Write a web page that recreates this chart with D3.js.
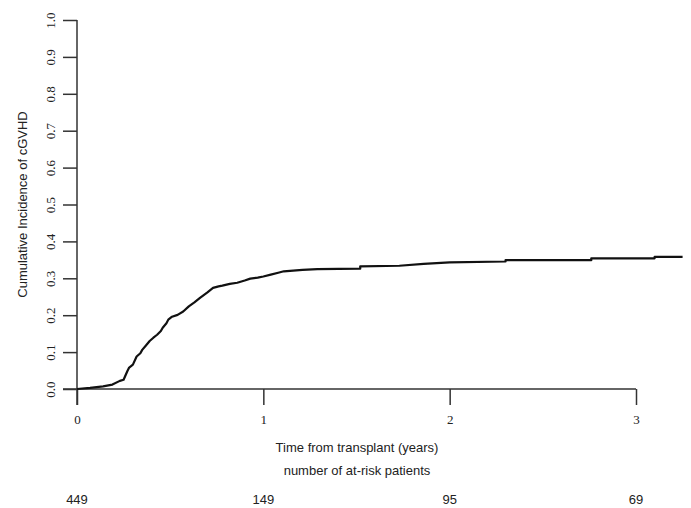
<!DOCTYPE html>
<html>
<head>
<meta charset="utf-8">
<script src="https://cdn.jsdelivr.net/npm/d3@7"></script>
<style>
  body { margin: 0; background: #fff; }
  svg { display: block; }
</style>
</head>
<body>
<div id="chart"></div>
<script>
// Curva de incidencia acumulada (años, incidencia); los pasos planos se repiten en x
const years = [0, 0.07, 0.14, 0.19, 0.23, 0.25, 0.27, 0.28, 0.30, 0.32, 0.34, 0.35, 0.37, 0.39, 0.41, 0.43, 0.45, 0.46, 0.48, 0.49, 0.51, 0.54, 0.57, 0.60, 0.63, 0.66, 0.70, 0.73, 0.76, 0.78, 0.82, 0.86, 0.90, 0.93, 0.97, 1.00, 1.04, 1.08, 1.11, 1.16, 1.21, 1.29, 1.52, 1.52, 1.73, 1.86, 2.00, 2.30, 2.30, 2.76, 2.76, 3.10, 3.10, 3.25];
const incidence = [0, 0.003, 0.007, 0.012, 0.022, 0.025, 0.048, 0.058, 0.066, 0.088, 0.097, 0.106, 0.118, 0.130, 0.139, 0.147, 0.157, 0.166, 0.178, 0.188, 0.196, 0.201, 0.210, 0.224, 0.235, 0.247, 0.262, 0.274, 0.278, 0.280, 0.285, 0.288, 0.294, 0.299, 0.302, 0.305, 0.310, 0.315, 0.319, 0.321, 0.323, 0.325, 0.326, 0.3325, 0.334, 0.339, 0.343, 0.3455, 0.349, 0.349, 0.354, 0.354, 0.358, 0.358];

const xTicks = [0, 1, 2, 3];
const yTicks = [0, 0.1, 0.2, 0.3, 0.4, 0.5, 0.6, 0.7, 0.8, 0.9, 1.0];
const atRisk = [449, 149, 95, 69];

const W = 691, H = 508;
const svg = d3.select("#chart").append("svg")
    .attr("width", W)
    .attr("height", H);

const x = d3.scaleLinear().domain([0, 3]).range([77, 636]);
const y = d3.scaleLinear().domain([0, 1]).range([389, 20]);

const serif = "'Liberation Serif', 'Times New Roman', serif";
const sans = "'Liberation Sans', Arial, sans-serif";

// Eje X
const gx = svg.append("g")
    .attr("transform", `translate(0,${y(0)})`)
    .call(d3.axisBottom(x).tickValues(xTicks).tickSize(16).tickSizeOuter(0).tickFormat(d3.format("d")));
gx.select(".domain").attr("d", `M63,0H${x(3)}`).attr("stroke", "#333").attr("stroke-width", 1.5);
gx.selectAll("line").attr("stroke", "#333").attr("stroke-width", 1.5);
gx.selectAll("text")
    .attr("y", 26)
    .attr("dy", "0.71em")
    .style("font-family", serif)
    .style("font-size", "13px")
    .attr("fill", "#222");

// Eje Y
const gy = svg.append("g")
    .attr("transform", `translate(${x(0)},0)`)
    .call(d3.axisLeft(y).tickValues(yTicks).tickSize(14).tickSizeOuter(0).tickFormat(d3.format(".1f")));
gy.select(".domain").attr("d", `M0,${y(1)}V405`).attr("stroke", "#333").attr("stroke-width", 1.5);
gy.selectAll("line").attr("stroke", "#333").attr("stroke-width", 1.5);
gy.selectAll("text")
    .attr("x", null)
    .attr("text-anchor", "middle")
    .attr("transform", "translate(-27,0) rotate(-90)")
    .attr("y", 0)
    .attr("dy", "0.35em")
    .style("font-family", serif)
    .style("font-size", "13px")
    .attr("fill", "#222");

// Curva
const pts = years.map((t, i) => [t, incidence[i]]);
svg.append("path")
    .datum(pts)
    .attr("fill", "none")
    .attr("stroke", "#111")
    .attr("stroke-width", 2.2)
    .attr("stroke-linejoin", "round")
    .attr("d", d3.line().x(d => x(d[0])).y(d => y(d[1])));

// Títulos
svg.append("text")
    .attr("transform", `translate(27,${(y(0) + y(1)) / 2}) rotate(-90)`)
    .attr("text-anchor", "middle")
    .style("font-family", sans)
    .style("font-size", "13px")
    .attr("fill", "#222")
    .text("Cumulative Incidence of cGVHD");

svg.append("text")
    .attr("x", 357).attr("y", 452)
    .attr("text-anchor", "middle")
    .style("font-family", sans)
    .style("font-size", "13px")
    .attr("fill", "#222")
    .text("Time from transplant (years)");

svg.append("text")
    .attr("x", 357).attr("y", 475)
    .attr("text-anchor", "middle")
    .style("font-family", sans)
    .style("font-size", "13px")
    .attr("fill", "#222")
    .text("number of at-risk patients");

// Pacientes en riesgo
svg.selectAll(".atrisk")
    .data(atRisk)
    .enter().append("text")
    .attr("class", "atrisk")
    .attr("x", (d, i) => x(xTicks[i]))
    .attr("y", 504)
    .attr("text-anchor", "middle")
    .style("font-family", sans)
    .style("font-size", "13px")
    .attr("fill", "#222")
    .text(d => d);
</script>
</body>
</html>
